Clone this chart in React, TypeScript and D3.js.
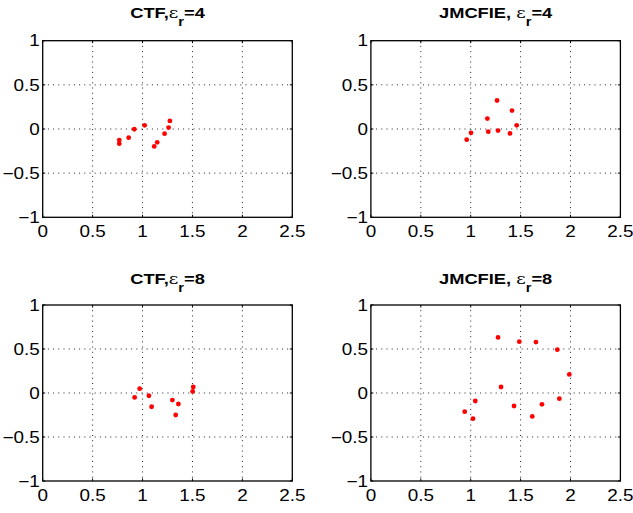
import React from "react";
import * as d3 from "d3";

const xTicks = [0, 0.5, 1, 1.5, 2, 2.5];
const yTicks = [-1, -0.5, 0, 0.5, 1];
const xTickLabels = ["0", "0.5", "1", "1.5", "2", "2.5"];
const yTickLabels = ["\u22121", "\u22120.5", "0", "0.5", "1"];

const ctf4X = [0.767, 0.767, 0.861, 0.917, 1.021, 1.117, 1.147, 1.221, 1.261, 1.274];
const ctf4Y = [-0.125, -0.166, -0.098, -0.003, 0.042, -0.197, -0.151, -0.053, 0.016, 0.091];

const jm4X = [0.96, 1.003, 1.167, 1.176, 1.264, 1.274, 1.394, 1.414, 1.461];
const jm4Y = [-0.121, -0.043, 0.118, -0.03, 0.323, -0.018, -0.05, 0.209, 0.042];

const ctf8X = [0.921, 0.971, 1.064, 1.091, 1.299, 1.359, 1.332, 1.502, 1.508];
const ctf8Y = [-0.05, 0.049, -0.031, -0.156, -0.08, -0.125, -0.25, 0.018, 0.068];

const jm8X = [1.274, 1.487, 1.654, 1.868, 1.988, 1.304, 1.046, 0.94, 1.023, 1.434, 1.617, 1.714, 1.888];
const jm8Y = [0.632, 0.583, 0.579, 0.492, 0.211, 0.068, -0.091, -0.212, -0.292, -0.148, -0.266, -0.129, -0.065];

const panelNames = ["CTF,", "JMCFIE, ", "CTF,", "JMCFIE, "];
const panelEps = ["4", "4", "8", "8"];
const panelXs = [ctf4X, jm4X, ctf8X, jm8X];
const panelYs = [ctf4Y, jm4Y, ctf8Y, jm8Y];

const FONT = "'Liberation Sans', Arial, Helvetica, sans-serif";
const FS = 16;
const SX = 1.18;

interface Box { l: number; r: number; t: number; b: number; titleY: number }
const boxes: Box[] = [
  { l: 42.7, r: 292.3, t: 40.7, b: 217.3, titleY: 18.3 },
  { l: 370.9, r: 620.4, t: 40.7, b: 217.3, titleY: 18.3 },
  { l: 42.7, r: 292.3, t: 305, b: 481, titleY: 284.3 },
  { l: 370.9, r: 620.4, t: 305, b: 481, titleY: 284.3 },
];

function Panel({ i }: { i: number }) {
  const bx = boxes[i];
  const x = d3.scaleLinear().domain([0, 2.5]).range([bx.l, bx.r]);
  const y = d3.scaleLinear().domain([-1, 1]).range([bx.b, bx.t]);
  const xs = panelXs[i];
  const ys = panelYs[i];
  const tl = 2.5;
  const cx = (bx.l + bx.r) / 2;
  return (
    <g>
      {xTicks.slice(1, -1).map((t) => (
        <line key={"gx" + t} x1={x(t)} x2={x(t)} y1={bx.t} y2={bx.b}
          stroke="#222" strokeWidth={1} strokeDasharray="1 4.2" />
      ))}
      {yTicks.slice(1, -1).map((t) => (
        <line key={"gy" + t} x1={bx.l} x2={bx.r} y1={y(t)} y2={y(t)}
          stroke="#222" strokeWidth={1} strokeDasharray="1 4.2" />
      ))}
      {xTicks.map((t) => (
        <g key={"tx" + t}>
          <line x1={x(t)} x2={x(t)} y1={bx.b} y2={bx.b - tl} stroke="#000" />
          <line x1={x(t)} x2={x(t)} y1={bx.t} y2={bx.t + tl} stroke="#000" />
        </g>
      ))}
      {yTicks.map((t) => (
        <g key={"ty" + t}>
          <line x1={bx.l} x2={bx.l + tl} y1={y(t)} y2={y(t)} stroke="#000" />
          <line x1={bx.r} x2={bx.r - tl} y1={y(t)} y2={y(t)} stroke="#000" />
        </g>
      ))}
      <rect x={bx.l} y={bx.t} width={bx.r - bx.l} height={bx.b - bx.t}
        fill="none" stroke="#000" strokeWidth={1.3} />
      {xTicks.map((t, k) => (
        <text key={"lx" + t} transform={`translate(${x(t)},${bx.b + 20}) scale(${SX},1)`}
          textAnchor="middle" fontFamily={FONT} fontSize={FS} fill="#000">
          {xTickLabels[k]}
        </text>
      ))}
      {yTicks.map((t, k) => (
        <text key={"ly" + t} transform={`translate(${bx.l - 3},${y(t) + 5.7}) scale(${SX},1)`}
          textAnchor="end" fontFamily={FONT} fontSize={FS} fill="#000">
          {yTickLabels[k]}
        </text>
      ))}
      <text transform={`translate(${cx},${bx.titleY}) scale(1.22,1)`} textAnchor="middle"
        fontFamily={FONT} fontSize={15} fontWeight="bold" fill="#000">
        <tspan>{panelNames[i]}</tspan>
        <tspan fontWeight="normal" fontFamily="'DejaVu Serif', 'Liberation Serif', serif">ε</tspan>
        <tspan fontSize={12} dy={7.5}>r</tspan>
        <tspan dy={-7.5}>={panelEps[i]}</tspan>
      </text>
      {xs.map((v, k) => (
        <circle key={"p" + k} cx={x(v)} cy={y(ys[k])} r={2.4} fill="#ff0000" />
      ))}
    </g>
  );
}

export default function App() {
  return (
    <svg width={633} height={513} style={{ position: "absolute", left: 0, top: 0, background: "#fff" }}>
      <rect x={0} y={0} width={633} height={513} fill="#fff" />
      {[0, 1, 2, 3].map((i) => <Panel key={i} i={i} />)}
    </svg>
  );
}
